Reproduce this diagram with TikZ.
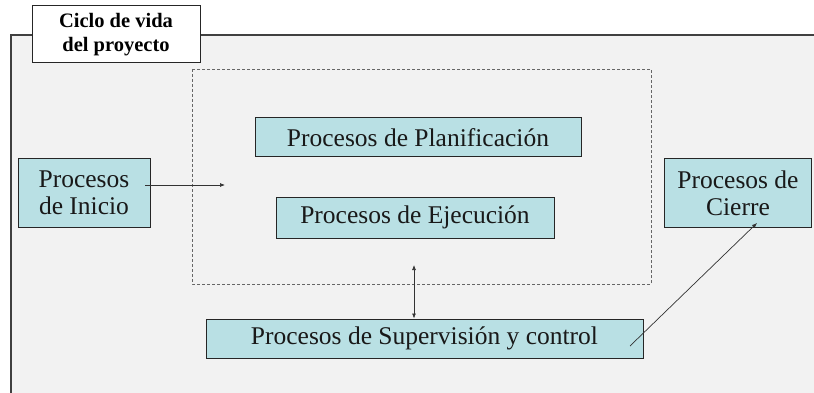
\documentclass[tikz,border=0pt]{standalone}
\usepackage{fontspec}
\setmainfont{Liberation Serif}
\usepackage{tikz}
\usetikzlibrary{arrows.meta}
\definecolor{procfill}{HTML}{B9E0E4}
\definecolor{backgray}{HTML}{F2F2F2}
\tikzset{
  proc/.style={draw=black!85, line width=1pt, fill=procfill, align=center,
    inner sep=0pt, text=black!90, font=\fontsize{25.5}{27}\selectfont},
  link/.style={line width=0.7pt, black!80, -{Latex[length=5pt,width=4pt]}}
}
\begin{document}
\begin{tikzpicture}[x=1pt,y=-1pt]

        \useasboundingbox (0,0) rectangle (814,393);
        \fill[white] (0,0) rectangle (814,393);
        \fill[backgray] (11,35) rectangle (814,393);
        \draw[line width=1.3pt, black!75] (11,393) -- (11,35) -- (814,35);

        % title tab
        \node[draw=black!85, line width=1pt, fill=white, minimum width=168pt, minimum height=57pt,
              inner sep=0pt, align=center, font=\fontsize{20.5}{24}\selectfont\bfseries] (ciclo) at (116,34.5)
              {Ciclo de vida\\del proyecto};

        % dashed group
        \draw[dashed, black!60, line width=0.9pt, dash pattern=on 3pt off 2pt] (192,69) rectangle (651,284);
        \coordinate (grp) at (414,284);

        \node[proc, minimum width=132pt, minimum height=68pt] (inicio) at (84,193) {Procesos\\de Inicio};
        \node[proc, minimum width=326pt, minimum height=39pt] (planif) at (418,137.5) {Procesos de Planificación};
        \node[proc, minimum width=278pt, minimum height=41pt] (ejec) at (415,217.5) {Procesos de Ejecución};
        \node[proc, minimum width=437pt, minimum height=39pt] (superv) at (424.5,338.5) {Procesos de Supervisión y control};
        \node[proc, minimum width=147pt, minimum height=69pt] (cierre) at (738,193) {Procesos de\\Cierre};

        % arrows
        \coordinate (a1) at (145,185);
        \coordinate (a2) at (225,185);
        \draw[link] (a1) -- (a2);

        \coordinate (b1) at (414,265);
        \draw[link, {Latex[length=5pt,width=4pt]}-{Latex[length=5pt,width=4pt]}] (b1) -- (superv.north -| b1);

        \coordinate (c1) at (630,346);
        \coordinate (c2) at (757,223);
        \draw[link] (c1) -- (c2);

\end{tikzpicture}
\end{document}
